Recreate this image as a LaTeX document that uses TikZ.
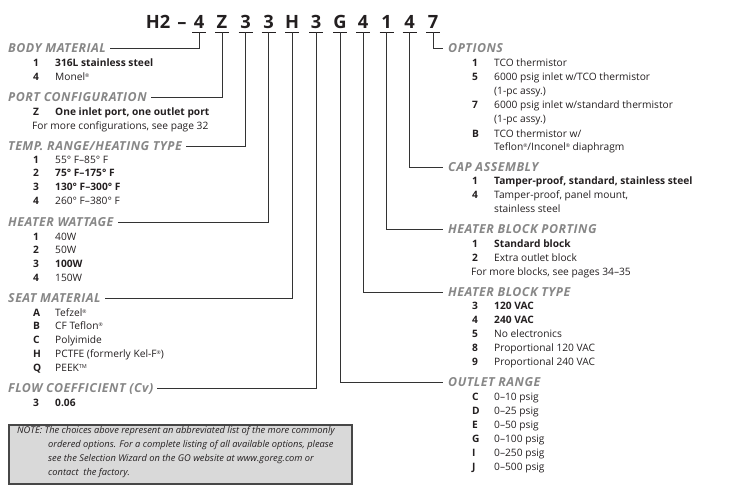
\documentclass[tikz,border=0pt]{standalone}
\usepackage{fontspec}
\setmainfont{Open Sans}
\newfontfamily\headfont{Open Sans}[LetterSpace=4]
\definecolor{ink}{HTML}{231F20}
\definecolor{headgray}{HTML}{878787}
\definecolor{linegray}{HTML}{333333}
\definecolor{notefill}{HTML}{D9D9D9}
\definecolor{noteborder}{HTML}{474747}
\newcommand{\optrow}[6]{%
  \node[num] (#1n) at (#2,#4) {#5};
  \node[txt] (#1t) at (#3,#4) {#6};}
\newcommand{\regm}{\raisebox{0.55ex}{\fontsize{5}{5}\selectfont ®}}
\begin{document}
\begin{tikzpicture}[x=1pt,y=-1pt,
  code/.style={anchor=base,inner sep=0,font=\fontsize{18.3}{20}\selectfont\bfseries,text=ink},
  uline/.style={draw=ink,line width=1pt},
  conn/.style={draw=linegray,line width=0.9pt},
  head/.style={anchor=west,inner sep=0,text height=8.7pt,text depth=0pt,font=\headfont\fontsize{12.4}{14}\selectfont\bfseries\itshape,text=headgray},
  num/.style={anchor=west,inner sep=0,text height=7.3pt,text depth=0pt,font=\fontsize{10.2}{12}\selectfont\bfseries,text=ink},
  txt/.style={anchor=west,inner sep=0,text height=7.3pt,text depth=0pt,font=\fontsize{10.2}{12}\selectfont,text=ink},
  notetxt/.style={anchor=west,inner sep=0,text height=6.6pt,text depth=0pt,font=\fontsize{9.3}{11}\selectfont\itshape,text=ink},
  notebox/.style={draw=noteborder,line width=1.5pt,fill=notefill,inner sep=0,anchor=north west,minimum width=343pt,minimum height=59pt}]
\useasboundingbox (0,0) rectangle (730,503);

% ---- code line ----
\node[code] (h2) at (158,29) {H2};
\node[code] (dash) at (182,29) {–};
\foreach \ch/\xx/\n in {4/199/1, Z/222/2, 3/245.5/3, 3/268.5/4, H/292/5, 3/316/6, G/340/7, 4/363/8, 1/386.5/9, 4/409.5/10, 7/433/11} {
  \node[code] (c\n) at (\xx,29) {\ch};
  \coordinate (u\n) at (\xx,32.5);
  \draw[uline] ([xshift=-7pt]u\n) -- ([xshift=7pt]u\n);
}

% ---- left column ----
\node[head] (hBody) at (8,48) {BODY MATERIAL};
\optrow{b1}{33}{55}{63}{1}{\bfseries 316L stainless steel}
\optrow{b4}{33}{55}{77}{4}{Monel\regm}

\node[head] (hPort) at (8,97) {PORT CONFIGURATION};
\optrow{pZ}{33}{55}{112}{Z}{\bfseries One inlet port, one outlet port}
\node[txt] (pMore) at (32,126) {For more configurations, see page 32};

\node[head] (hTemp) at (8,146) {TEMP. RANGE/HEATING TYPE};
\optrow{t1}{33}{55}{160}{1}{55° F–85° F}
\optrow{t2}{33}{55}{173}{2}{\bfseries 75° F–175° F}
\optrow{t3}{33}{55}{187}{3}{\bfseries 130° F–300° F}
\optrow{t4}{33}{55}{201}{4}{260° F–380° F}

\node[head] (hWatt) at (8,222) {HEATER WATTAGE};
\optrow{w1}{33}{55}{237}{1}{40W}
\optrow{w2}{33}{55}{250}{2}{50W}
\optrow{w3}{33}{55}{264}{3}{\bfseries 100W}
\optrow{w4}{33}{55}{278}{4}{150W}

\node[head] (hSeat) at (8,298) {SEAT MATERIAL};
\optrow{sA}{33}{55}{313}{A}{Tefzel\regm}
\optrow{sB}{33}{55}{326}{B}{CF Teflon\regm}
\optrow{sC}{33}{55}{340}{C}{Polyimide}
\optrow{sH}{33}{55}{354}{H}{PCTFE (formerly Kel-F\regm)}
\optrow{sQ}{33}{55}{368}{Q}{PEEK\raisebox{0.55ex}{\fontsize{5.5}{5}\selectfont TM}}

\node[head] (hFlow) at (8,388) {FLOW COEFFICIENT (Cv)};
\optrow{f3}{33}{55}{403}{3}{\bfseries 0.06}

% ---- right column ----
\node[head] (hOpt) at (448,48) {OPTIONS};
\optrow{o1}{472}{494}{63}{1}{TCO thermistor}
\optrow{o5}{472}{494}{77}{5}{6000 psig inlet w/TCO thermistor}
\node[txt] (o5b) at (494,91) {(1-pc assy.)};
\optrow{o7}{472}{494}{105}{7}{6000 psig inlet w/standard thermistor}
\node[txt] (o7b) at (494,119) {(1-pc assy.)};
\optrow{oB}{472}{494}{134}{B}{TCO thermistor w/}
\node[txt] (oBb) at (494,147) {Teflon\regm/Inconel\regm\ diaphragm};

\node[head] (hCap) at (448,167) {CAP ASSEMBLY};
\optrow{a1}{472}{494}{181}{1}{\bfseries Tamper-proof, standard, stainless steel}
\optrow{a4}{472}{494}{195}{4}{Tamper-proof, panel mount,}
\node[txt] (a4b) at (494,209) {stainless steel};

\node[head] (hPorting) at (448,229) {HEATER BLOCK PORTING};
\optrow{r1}{472}{494}{244}{1}{\bfseries Standard block}
\optrow{r2}{472}{494}{258}{2}{Extra outlet block}
\node[txt] (rMore) at (471,272) {For more blocks, see pages 34–35};

\node[head] (hType) at (448,292) {HEATER BLOCK TYPE};
\optrow{y3}{472}{494}{306}{3}{\bfseries 120 VAC}
\optrow{y4}{472}{494}{320}{4}{\bfseries 240 VAC}
\optrow{y5}{472}{494}{334}{5}{No electronics}
\optrow{y8}{472}{494}{348}{8}{Proportional 120 VAC}
\optrow{y9}{472}{494}{362}{9}{Proportional 240 VAC}

\node[head] (hOut) at (448,382) {OUTLET RANGE};
\optrow{eC}{472}{494}{397}{C}{0–10 psig}
\optrow{eD}{472}{494}{411}{D}{0–25 psig}
\optrow{eE}{472}{494}{425}{E}{0–50 psig}
\optrow{eG}{472}{494}{439}{G}{0–100 psig}
\optrow{eI}{472}{494}{453}{I}{0–250 psig}
\optrow{eJ}{472}{494}{467}{J}{0–500 psig}

% ---- connectors ----
\draw[conn] (u1) |- ([xshift=4pt]hBody.east);
\draw[conn] (u2) |- ([xshift=4pt]hPort.east);
\draw[conn] (u3) |- ([xshift=4pt]hTemp.east);
\draw[conn] (u4) |- ([xshift=4pt]hWatt.east);
\draw[conn] (u5) |- ([xshift=4pt]hSeat.east);
\draw[conn] (u6) |- ([xshift=4pt]hFlow.east);
\draw[conn] (u7) |- ([xshift=-5pt]hOut.west);
\draw[conn] (u8) |- ([xshift=-5pt]hType.west);
\draw[conn] (u9) |- ([xshift=-5pt]hPorting.west);
\draw[conn] (u10) |- ([xshift=-5pt]hCap.west);
\draw[conn] (u11) |- ([xshift=-5pt]hOpt.west);

% ---- note ----
\node[notebox] (note) at (8,424) {};
\node[notetxt] (n1) at (17,430) {NOTE: The choices above represent an abbreviated list of the more commonly};
\node[notetxt] (n2) at (48,444) {ordered options. For a complete listing of all available options, please};
\node[notetxt] (n3) at (48,458) {see the Selection Wizard on the GO website at www.goreg.com or};
\node[notetxt] (n4) at (48,472) {contact\ \ the factory.};
\end{tikzpicture}
\end{document}
